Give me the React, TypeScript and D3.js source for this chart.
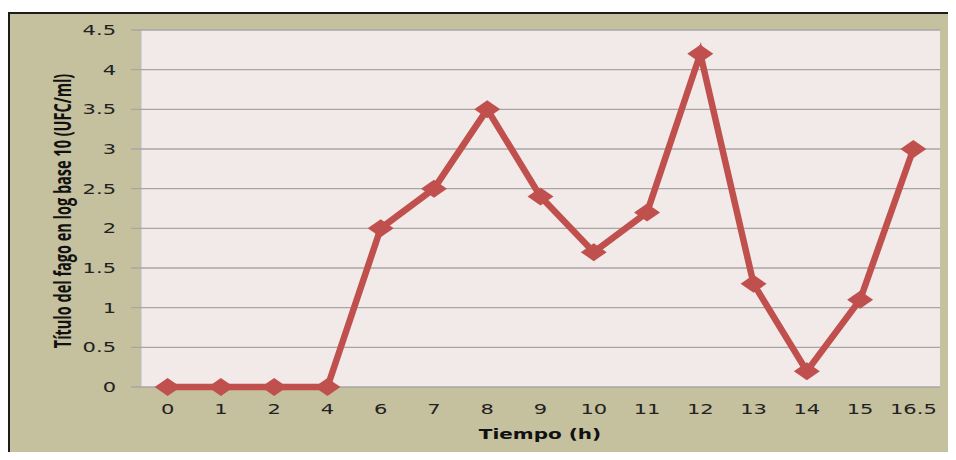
import React from "react";
import * as d3 from "d3";

// Phage titre over time
const categories = ["0", "1", "2", "4", "6", "7", "8", "9", "10", "11", "12", "13", "14", "15", "16.5"];
const titre = [0, 0, 0, 0, 2, 2.5, 3.5, 2.4, 1.7, 2.2, 4.2, 1.3, 0.2, 1.1, 3];
const yTicks = [0, 0.5, 1, 1.5, 2, 2.5, 3, 3.5, 4, 4.5];
const yTitle = "Título del fago en log base 10 (UFC/ml)";
const xTitle = "Tiempo (h)";

const W = 956;
const H = 460;
const plot = { left: 141, right: 940, top: 30, bottom: 387 };

const FRAME_BG = "#C5C09E";
const PLOT_BG = "#F2E9E9";
const LINE = "#C0504D";
const GRID = "#A8A6A4";
const TEXT = "#222";
const tickFont = "'DejaVu Sans', Verdana, sans-serif";

export default function App() {
  const x = d3.scalePoint<string>().domain(categories).range([plot.left, plot.right]).padding(0.5);
  const y = d3.scaleLinear().domain([0, 4.5]).range([plot.bottom, plot.top]);
  const pts: [number, number][] = categories.map((c, i) => [x(c) as number, y(titre[i])]);
  const line = d3.line<[number, number]>()(pts) || "";
  const diamond = (cx: number, cy: number) =>
    `M${cx - 13},${cy}L${cx},${cy - 9}L${cx + 13},${cy}L${cx},${cy + 9}Z`;

  return (
    <svg width={W} height={H} style={{ display: "block", margin: -8 }}>
      <rect x={0} y={0} width={W} height={H} fill="#ffffff" />
      <rect x={9} y={13} width={W + 10} height={H} fill={FRAME_BG} stroke="#1c1c1c" strokeWidth={2} />
      <rect x={plot.left} y={plot.top} width={plot.right - plot.left} height={plot.bottom - plot.top} fill={PLOT_BG} />
      <line x1={plot.left} x2={plot.left} y1={plot.top} y2={plot.bottom} stroke="#BDBDBD" strokeWidth={1} />
      {yTicks.map((t) => (
        <g key={t}>
          <line x1={plot.left - 10} x2={plot.right} y1={y(t)} y2={y(t)} stroke={GRID} strokeWidth={1.3} />
          <text
            transform={`translate(116,${y(t) + 5}) scale(1.45,1)`}
            textAnchor="end"
            fontFamily={tickFont}
            fontSize={14.5}
            fill={TEXT}
          >
            {t}
          </text>
        </g>
      ))}
      {categories.map((c) => (
        <text
          key={c}
          transform={`translate(${x(c)},414) scale(1.45,1)`}
          textAnchor="middle"
          fontFamily={tickFont}
          fontSize={14.5}
          fill={TEXT}
        >
          {c}
        </text>
      ))}
      <path d={line} fill="none" stroke={LINE} strokeWidth={6.5} strokeLinejoin="miter" />
      {pts.map(([px, py], i) => (
        <path key={i} d={diamond(px, py)} fill={LINE} />
      ))}
      <text
        transform={`translate(540,439) scale(1.38,1)`}
        textAnchor="middle"
        fontFamily={tickFont}
        fontWeight="bold"
        fontSize={14.5}
        fill="#111"
      >
        {xTitle}
      </text>
      <text
        transform={`translate(71,211) rotate(-90) scale(1,1.65)`}
        textAnchor="middle"
        fontFamily="'Liberation Sans Narrow', 'Open Sans', sans-serif"
        fontWeight="bold"
        fontSize={14.5}
        fill="#111"
      >
        {yTitle}
      </text>
    </svg>
  );
}
